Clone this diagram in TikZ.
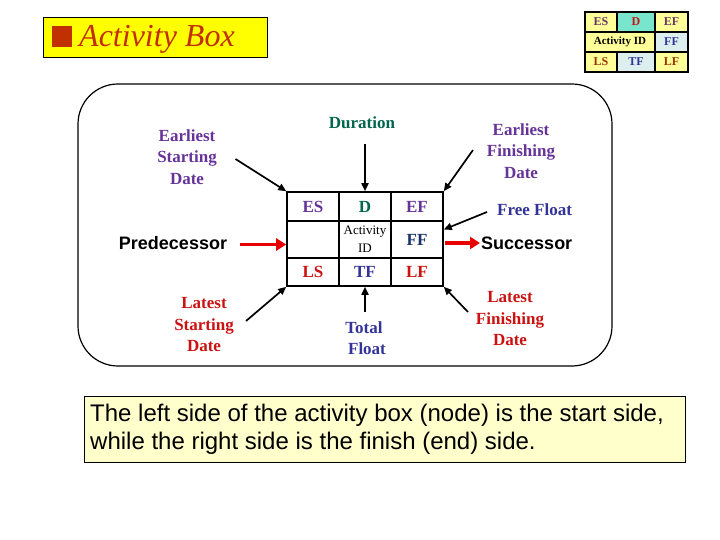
\documentclass[tikz,border=0pt]{standalone}
\usepackage{fontspec}
\setmainfont{Liberation Serif}
\setsansfont{Liberation Sans}
\usetikzlibrary{arrows.meta,calc}
\definecolor{cpurple}{RGB}{102,51,153}
\definecolor{cteal}{RGB}{0,102,76}
\definecolor{cnavy}{RGB}{51,51,153}
\definecolor{cdnavy}{RGB}{26,51,102}
\definecolor{cred}{RGB}{204,17,17}
\definecolor{carrow}{RGB}{230,0,0}
\definecolor{ctitle}{RGB}{192,48,0}
\definecolor{ctitlebg}{RGB}{255,255,0}
\definecolor{cnote}{RGB}{255,255,204}
\definecolor{mYel}{RGB}{255,255,153}
\definecolor{mAqua}{RGB}{120,230,205}
\definecolor{mBlue}{RGB}{221,238,238}
\definecolor{mPurp}{RGB}{102,51,102}
\definecolor{mBrown}{RGB}{153,51,0}
\begin{document}
\begin{tikzpicture}[x=1pt,y=-1pt,
  cell/.style={draw, line width=1.6pt, minimum width=52pt, inner sep=0pt,
    font=\fontsize{17}{20}\selectfont\bfseries},
  mcell/.style={draw, line width=1.1pt, minimum height=20pt, inner sep=0pt,
    font=\fontsize{12}{14}\selectfont\bfseries},
  lbl/.style={align=center, inner sep=1pt, font=\fontsize{17}{21.5}\selectfont\bfseries},
  sanslbl/.style={inner sep=1pt, font=\sffamily\bfseries\fontsize{18}{20}\selectfont},
  blk/.style={line width=1.7pt, -{Triangle[length=8pt,width=7pt]}},
  redarr/.style={line width=3.5pt, carrow, -{Triangle[length=10pt,width=12pt]}}
]
\useasboundingbox (0,0) rectangle (720,540);

% title
\node[draw, line width=1pt, fill=ctitlebg, minimum width=224pt, minimum height=40pt, inner sep=0pt] (titlebox) at (155,38) {};
\node[fill=ctitle, minimum width=20pt, minimum height=21pt, inner sep=0pt] (tsq) at (62,36.5) {};
\node[anchor=west, inner sep=0pt, text=ctitle, font=\itshape\fontsize{32}{34}\selectfont] (title) at (79,39) {Activity Box};

% mini table
\node[mcell, fill=mYel, minimum width=32pt, text=mPurp] (mes) at (601,22) {ES};
\node[mcell, fill=mAqua, minimum width=38pt, text=cred] (md) at (636,22) {D};
\node[mcell, fill=mYel, minimum width=33pt, text=mPurp] (mef) at (671.5,22) {EF};
\node[mcell, fill=mYel, minimum width=70pt, font=\fontsize{11}{13}\selectfont\bfseries] (maid) at (620,42) {Activity ID};
\node[mcell, fill=mBlue, minimum width=33pt, text=cnavy] (mff) at (671.5,42) {FF};
\node[mcell, fill=mYel, minimum width=32pt, text=mBrown] (mls) at (601,62) {LS};
\node[mcell, fill=mBlue, minimum width=38pt, text=cnavy] (mtf) at (636,62) {TF};
\node[mcell, fill=mYel, minimum width=33pt, text=mBrown] (mlf) at (671.5,62) {LF};

% rounded frame
\draw[line width=1.2pt, rounded corners=40pt] (78,84) rectangle (612,366);

% activity grid
\node[cell, minimum height=29pt, text=cpurple] (es) at (313,206.5) {ES};
\node[cell, minimum height=29pt, text=cteal] (d) at (365,206.5) {D};
\node[cell, minimum height=29pt, text=cpurple] (ef) at (417,206.5) {EF};
\node[cell, minimum height=37pt] (mid) at (313,239.5) {};
\node[cell, minimum height=37pt, align=center, font=\fontsize{13}{18}\selectfont] (aid) at (365,239.5) {Activity\\ID};
\node[cell, minimum height=37pt, text=cdnavy] (ff) at (417,239.5) {FF};
\node[cell, minimum height=28pt, text=cred] (ls) at (313,272) {LS};
\node[cell, minimum height=28pt, text=cnavy] (tf) at (365,272) {TF};
\node[cell, minimum height=28pt, text=cred] (lf) at (417,272) {LF};

% labels
\node[lbl, text=cpurple] (esd) at (187,157) {Earliest\\Starting\\Date};
\node[lbl, text=cteal] (dur) at (362,123) {Duration};
\node[lbl, text=cpurple] (efd) at (521,151) {Earliest\\Finishing\\Date};
\node[lbl, text=cnavy, anchor=west] (fflt) at (496,210) {Free Float};
\node[sanslbl, anchor=center] (pred) at (173,243) {Predecessor};
\node[sanslbl, anchor=west] (succ) at (480,243) {Successor};
\node[lbl, text=cred] (lsd) at (204,325) {Latest\\Starting\\Date};
\node[lbl, text=cnavy] (tflt) at (364,338) {Total\\\hspace*{6pt}Float};
\node[lbl, text=cred] (lfd) at (510,319) {Latest\\Finishing\\Date};

% arrow tails
\coordinate (t1) at (235.5,159);
\coordinate (t2) at (365,144);
\coordinate (t3) at (473,150);
\coordinate (t4) at (487,212);
\coordinate (t5) at (240,244.5);
\coordinate (t6) at (246,321);
\coordinate (t7) at (365,312);
\coordinate (t8) at (468,312);

\draw[blk] (t1) -- (es.north west);
\draw[blk] (t2) -- (d.north);
\draw[blk] (t3) -- (ef.north east);
\draw[blk] (t4) -- ($(ff.east)+(0,-10)$);
\draw[blk] (t6) -- (ls.south west);
\draw[blk] (t7) -- (tf.south);
\draw[blk] (t8) -- (lf.south east);
\draw[redarr] (t5) -- ($(mid.west)+(0,5)$);
\draw[redarr] ($(ff.east)+(1,3.5)$) -- (succ.west);

% note
\node[draw, line width=1pt, fill=cnote, minimum width=601pt, minimum height=66pt, inner sep=0pt] (notebox) at (384.5,429) {};
\node[anchor=west, align=left, inner sep=0pt, font=\sffamily\fontsize{24}{28}\selectfont] (note) at (90,429) {The left side of the activity box (node) is the start side,\\while the right side is the finish (end) side.};
\end{tikzpicture}
\end{document}
